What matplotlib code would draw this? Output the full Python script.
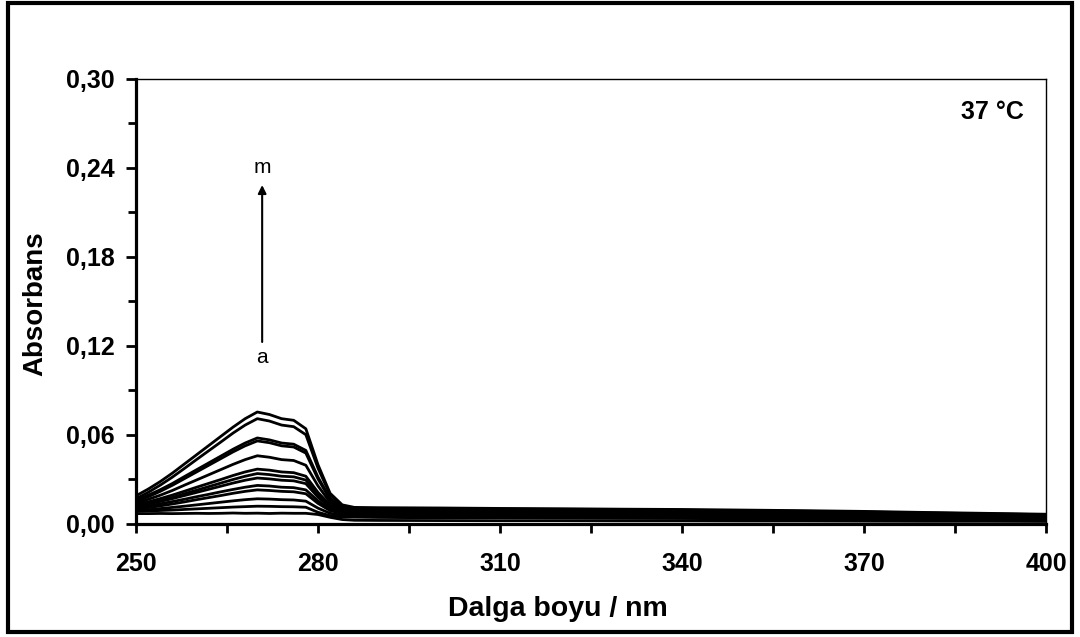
import matplotlib
matplotlib.use("Agg")
import matplotlib.pyplot as plt
from matplotlib.patches import Rectangle
from matplotlib.ticker import MultipleLocator, FuncFormatter

plt.rcParams['font.family'] = ['Liberation Sans', 'DejaVu Sans']

# wavelengths (nm)
wl = [250, 252, 254, 256, 258, 260, 262, 264, 266, 268, 270, 272, 274, 276, 278,
      280, 282, 284, 286, 290, 300, 310, 320, 330, 340, 350, 360, 370, 380, 390, 400]

# absorbance spectra, a (lowest) ... m (highest)
curve_a = [.0070, .0070, .0071, .0070, .0071, .0072, .0071, .0072, .0074, .0072, .0073, .0071, .0073, .0072, .0072,
           .0064, .0045, .0030, .0025, .0024, .0023, .0022, .0022, .0021, .0021, .0020, .0020, .0019, .0018, .0018, .0017]
curve_b = [.0085, .0088, .0091, .0094, .0098, .0102, .0106, .0110, .0114, .0117, .0120, .0119, .0117, .0116, .0113,
           .0079, .0056, .0047, .0046, .0044, .0042, .0041, .0040, .0038, .0037, .0035, .0034, .0032, .0030, .0028, .0025]
curve_c = [.0090, .0096, .0104, .0112, .0120, .0129, .0138, .0147, .0156, .0164, .0170, .0168, .0164, .0162, .0154,
           .0107, .0072, .0058, .0056, .0054, .0052, .0050, .0048, .0047, .0045, .0043, .0041, .0039, .0036, .0033, .0030]
curve_d = [.0100, .0110, .0122, .0135, .0149, .0164, .0178, .0192, .0207, .0220, .0230, .0226, .0220, .0217, .0204,
           .0139, .0090, .0070, .0066, .0064, .0062, .0060, .0058, .0056, .0054, .0052, .0050, .0047, .0044, .0040, .0036]
curve_e = [.0110, .0122, .0136, .0151, .0167, .0184, .0200, .0217, .0233, .0248, .0260, .0256, .0248, .0245, .0230,
           .0156, .0099, .0076, .0071, .0069, .0067, .0065, .0063, .0061, .0059, .0057, .0055, .0052, .0048, .0044, .0040]
curve_f = [.0118, .0135, .0152, .0171, .0192, .0213, .0234, .0255, .0276, .0295, .0310, .0304, .0295, .0291, .0272,
           .0181, .0110, .0082, .0076, .0074, .0072, .0070, .0068, .0066, .0064, .0062, .0059, .0056, .0052, .0048, .0044]
curve_g = [.0120, .0138, .0157, .0179, .0204, .0228, .0252, .0276, .0300, .0322, .0340, .0333, .0322, .0318, .0296,
           .0197, .0119, .0088, .0081, .0079, .0077, .0075, .0073, .0071, .0069, .0067, .0064, .0061, .0056, .0052, .0047]
curve_h = [.0130, .0149, .0171, .0195, .0221, .0248, .0274, .0300, .0327, .0351, .0370, .0363, .0351, .0346, .0322,
           .0213, .0128, .0094, .0086, .0084, .0082, .0080, .0078, .0076, .0074, .0071, .0068, .0065, .0060, .0055, .0050]
curve_i = [.0140, .0166, .0194, .0226, .0262, .0297, .0332, .0367, .0402, .0434, .0460, .0450, .0434, .0428, .0396,
           .0257, .0146, .0101, .0091, .0089, .0087, .0085, .0083, .0081, .0079, .0076, .0073, .0069, .0064, .0059, .0054]
curve_j = [.0150, .0183, .0220, .0261, .0306, .0351, .0396, .0441, .0486, .0527, .0560, .0548, .0527, .0519, .0478,
           .0304, .0165, .0109, .0096, .0094, .0092, .0090, .0088, .0086, .0083, .0080, .0077, .0073, .0068, .0063, .0057]
curve_k = [.0160, .0194, .0231, .0273, .0320, .0366, .0412, .0458, .0504, .0546, .0580, .0567, .0546, .0538, .0496,
           .0316, .0172, .0114, .0101, .0099, .0097, .0095, .0093, .0091, .0088, .0085, .0081, .0077, .0071, .0066, .0060]
curve_l = [.0170, .0213, .0262, .0316, .0375, .0435, .0494, .0553, .0613, .0667, .0710, .0694, .0667, .0656, .0602,
           .0377, .0196, .0123, .0106, .0104, .0102, .0100, .0098, .0096, .0093, .0090, .0086, .0081, .0075, .0069, .0063]
curve_m = [.0190, .0235, .0286, .0343, .0405, .0467, .0529, .0591, .0653, .0710, .0755, .0738, .0710, .0699, .0642,
           .0400, .0207, .0129, .0112, .0110, .0108, .0105, .0103, .0100, .0098, .0094, .0090, .0085, .0078, .0072, .0066]

spectra = [curve_a, curve_b, curve_c, curve_d, curve_e, curve_f, curve_g,
           curve_h, curve_i, curve_j, curve_k, curve_l, curve_m]

x_ticks = [250, 280, 310, 340, 370, 400]
x_minor = [265, 295, 325, 355, 385]

fig = plt.figure(figsize=(10.8, 6.37), dpi=100)
ax = fig.add_axes([0.1259, 0.1774, 0.8426, 0.6986])

for s in spectra:
    ax.plot(wl, s, color='black', lw=2.0, solid_joinstyle='round')

ax.set_xlim(250, 400)
ax.set_ylim(0, 0.30)
ax.set_xticks(x_ticks)
ax.set_xticks(x_minor, minor=True)
ax.yaxis.set_major_locator(MultipleLocator(0.06))
ax.yaxis.set_minor_locator(MultipleLocator(0.03))
ax.yaxis.set_major_formatter(FuncFormatter(lambda v, p: f"{v:.2f}".replace('.', ',')))

for side in ['left', 'bottom']:
    ax.spines[side].set_linewidth(2.3)
for side in ['top', 'right']:
    ax.spines[side].set_linewidth(1.0)

ax.tick_params(axis='both', which='both', direction='out', width=2.0)
ax.tick_params(axis='y', which='major', length=7, pad=8.5)
ax.tick_params(axis='y', which='minor', length=5.5)
ax.tick_params(axis='x', which='both', length=6.5, pad=14)
ax.tick_params(top=False, right=False)
for lbl in ax.get_xticklabels() + ax.get_yticklabels():
    lbl.set_fontsize(18)
    lbl.set_fontweight('bold')

ax.set_xlabel('Dalga boyu / nm', fontsize=20.5, fontweight='bold')
ax.xaxis.set_label_coords(0.464, -0.191)
ax.xaxis.label.set_va('center')
ax.set_ylabel('Absorbans', fontsize=20, fontweight='bold')
ax.yaxis.set_label_coords(-0.111, 0.494)
ax.yaxis.label.set_va('center')

ax.text(396.4, 0.278, '37 °C', fontsize=18, fontweight='bold', ha='right', va='center')

ax.annotate('', xy=(270.8, 0.2285), xytext=(270.8, 0.1227),
            arrowprops=dict(arrowstyle='-|>', color='black', lw=1.5,
                            mutation_scale=12, shrinkA=0, shrinkB=0))
ax.text(270.8, 0.112, 'a', fontsize=15, ha='center', va='center')
ax.text(270.8, 0.240, 'm', fontsize=15, ha='center', va='center')

fig.patches.append(Rectangle((0.0074, 0.0078), 0.9852, 0.9872, transform=fig.transFigure,
                             fill=False, edgecolor='black', lw=3.0))

fig.savefig('out.png', dpi=100)
